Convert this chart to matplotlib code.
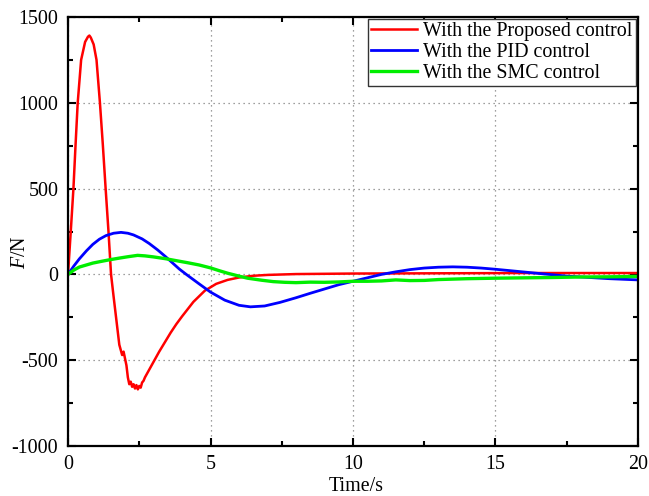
import numpy as np
import matplotlib.pyplot as plt
from matplotlib.ticker import MultipleLocator

# Proposed control (red)
t_prop = [0, 0.1, 0.19, 0.26, 0.34, 0.46, 0.6, 0.7, 0.75, 0.8, 0.9, 1.0, 1.12,
          1.22, 1.32, 1.42, 1.51, 1.6, 1.7, 1.8, 1.85, 1.9, 1.95, 2.0, 2.05,
          2.1, 2.15, 2.2, 2.25, 2.3, 2.35, 2.4, 2.45, 2.5, 2.55, 2.6, 2.65,
          2.7, 2.8, 2.9, 3.0, 3.2, 3.4, 3.6, 3.8, 4.0, 4.4, 4.8, 5.2, 5.6,
          6.0, 6.5, 7.0, 8, 10, 12, 14, 16, 18, 20]
f_prop = [0, 260, 500, 740, 1000, 1250, 1355, 1385, 1392, 1380, 1340, 1250,
          1000, 760, 500, 250, 0, -130, -270, -410, -440, -470, -450, -490,
          -530, -600, -640, -625, -655, -640, -665, -645, -670, -650, -660,
          -630, -620, -600, -570, -540, -510, -450, -395, -340, -290, -245,
          -160, -95, -55, -32, -18, -8, -3, 2, 5, 6, 7, 8, 8, 8]

# PID control (blue)
t_pid = [0, 0.2, 0.4, 0.65, 0.87, 1.1, 1.33, 1.6, 1.86, 2.1, 2.3, 2.6, 2.85,
         3.15, 3.44, 3.7, 3.9, 4.15, 4.6, 5.0, 5.5, 6.0, 6.4, 6.9, 7.44, 8,
         8.5, 9, 9.5, 10, 10.5, 11, 11.5, 12, 12.5, 13, 13.5, 14, 14.5, 15,
         15.5, 16, 16.5, 17, 17.5, 18, 19, 20]
f_pid = [0, 48, 91, 138, 175, 205, 226, 240, 245, 240, 230, 207, 180, 142,
         101, 62, 32, 0, -55, -103, -150, -180, -189, -184, -163, -136, -110,
         -85, -60, -40, -20, 0, 15, 28, 37, 42, 44, 42, 37, 30, 22, 14, 6, -2,
         -10, -15, -25, -32]

# SMC control (green)
t_smc = [0, 0.2, 0.4, 0.87, 1.2, 1.45, 1.8, 2.1, 2.44, 2.7, 3.0, 3.44, 3.8,
         4.2, 4.6, 5.0, 5.3, 5.6, 6.0, 6.3, 6.8, 7.2, 7.6, 8.0, 8.5, 9, 9.5,
         10, 10.5, 11, 11.5, 12, 12.5, 13, 14, 15, 16, 17, 18, 19, 20]
f_smc = [0, 25, 43, 66, 77, 85, 95, 103, 111, 108, 102, 91, 80, 68, 55, 38,
         22, 7, -10, -22, -34, -42, -46, -48, -45, -46, -44, -40, -40, -38,
         -32, -36, -35, -30, -25, -22, -20, -18, -15, -14, -12]

plt.rcParams['font.family'] = 'Liberation Serif'
plt.rcParams['mathtext.fontset'] = 'custom'
plt.rcParams['mathtext.it'] = 'Liberation Serif:italic'
plt.rcParams['mathtext.rm'] = 'Liberation Serif'
plt.rcParams['axes.unicode_minus'] = False

fig = plt.figure(figsize=(6.49, 4.96), dpi=100)
ax = fig.add_axes([0.1048, 0.1008, 0.8782, 0.8649])

ax.plot(t_prop, f_prop, color='#ff0000', lw=1.8, label='With the Proposed control')
ax.plot(t_pid, f_pid, color='#0000ff', lw=2.0, label='With the PID control')
ax.plot(t_smc, f_smc, color='#00ee00', lw=2.4, label='With the SMC control')

ax.set_xlim(0, 20)
ax.set_ylim(-1000, 1500)
ax.xaxis.set_major_locator(MultipleLocator(5))
ax.xaxis.set_minor_locator(MultipleLocator(2.5))
ax.yaxis.set_major_locator(MultipleLocator(500))
ax.yaxis.set_minor_locator(MultipleLocator(250))
ax.tick_params(which='both', direction='in', top=True, right=True, labelsize=14.4, width=1.5)
ax.tick_params(which='major', length=6)
ax.tick_params(which='minor', length=3.5)
ax.tick_params(axis='x', pad=6.5)
ax.tick_params(axis='y', pad=7)
for s in ax.spines.values():
    s.set_linewidth(1.6)
ax.grid(True, which='major', ls=(0, (1, 3)), color='gray', lw=0.9)

ax.set_xlabel('Time/s', fontsize=14.4)
ax.xaxis.set_label_coords(0.505, -0.072)
ax.set_ylabel('$F$/N', fontsize=14.4)
ax.yaxis.set_label_coords(-0.066, 0.452)

leg = ax.legend(loc='upper right', fontsize=14.4, fancybox=False, framealpha=1,
                edgecolor='#333333', handlelength=2.3, borderpad=0.15,
                labelspacing=0.1, handletextpad=0.3, borderaxespad=0.12)
leg.get_frame().set_linewidth(1.0)

fig.savefig('out.png', dpi=100)
